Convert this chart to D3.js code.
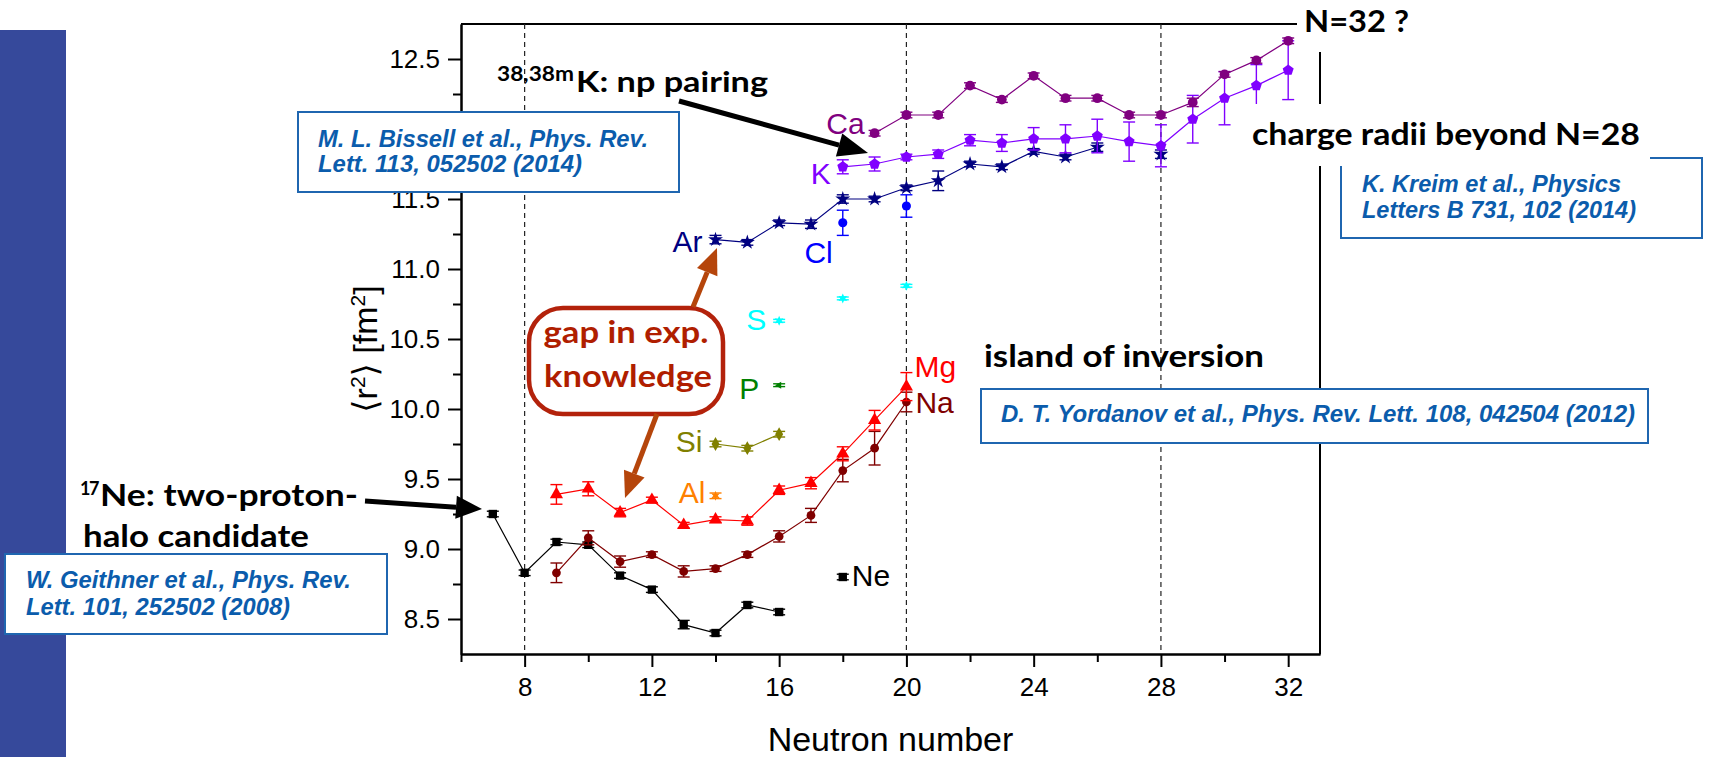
<!DOCTYPE html>
<html>
<head>
<meta charset="utf-8">
<script src="https://cdn.jsdelivr.net/npm/d3@7"></script>
<style>
  body { margin: 0; background: #fff; }
</style>
</head>
<body>
<script>
// [neutron number, <r^2> in fm^2, error]
const ne = [[7, 9.25, 0.02], [8, 8.83, 0.02], [9, 9.05, 0.02], [10, 9.03, 0.02], [11, 8.81, 0.02], [12, 8.71, 0.02], [13, 8.46, 0.03], [14, 8.40, 0.02], [15, 8.60, 0.02], [16, 8.55, 0.02], [18, 8.80, 0.02]]
const na = [[9, 8.83, 0.07], [10, 9.08, 0.05], [11, 8.91, 0.04], [12, 8.96, 0.02], [13, 8.84, 0.04], [14, 8.86, 0.02], [15, 8.96, 0.02], [16, 9.09, 0.04], [17, 9.24, 0.05], [18, 9.56, 0.08], [19, 9.72, 0.12], [20, 10.05, 0.07]]
const mg = [[9, 9.39, 0.07], [10, 9.43, 0.05], [11, 9.26, 0.03], [12, 9.35, 0.02], [13, 9.17, 0.02], [14, 9.21, 0.02], [15, 9.20, 0.03], [16, 9.42, 0.03], [17, 9.47, 0.04], [18, 9.68, 0.05], [19, 9.92, 0.07], [20, 10.16, 0.10]]
const al = [[14, 9.38, 0.02]]
const si = [[14, 9.75, 0.02], [15, 9.72, 0.02], [16, 9.82, 0.02]]
const p = [[16, 10.17, 0.01]]
const s = [[16, 10.63, 0.01], [18, 10.79, 0.01], [20, 10.88, 0.01]]
const cl = [[18, 11.33, 0.09], [20, 11.45, 0.08]]
const ar = [[14, 11.21, 0.03], [15, 11.19, 0.02], [16, 11.33, 0.02], [17, 11.32, 0.03], [18, 11.50, 0.03], [19, 11.50, 0.02], [20, 11.58, 0.02], [21, 11.63, 0.07], [22, 11.75, 0.02], [23, 11.73, 0.02], [24, 11.84, 0.02], [25, 11.80, 0.02], [26, 11.87, 0.03], [28, 11.82, 0.03]]
const k = [[18, 11.73, 0.05], [19, 11.75, 0.05], [20, 11.80, 0.02], [21, 11.82, 0.03], [22, 11.92, 0.04], [23, 11.90, 0.06], [24, 11.93, 0.08], [25, 11.93, 0.10], [26, 11.95, 0.12], [27, 11.91, 0.14], [28, 11.88, 0.15], [29, 12.07, 0.17], [30, 12.22, 0.19], [31, 12.31, 0.15], [32, 12.42, 0.21]]
const ca = [[19, 11.97, 0.02], [20, 12.10, 0.02], [21, 12.10, 0.02], [22, 12.31, 0.02], [23, 12.21, 0.02], [24, 12.38, 0.02], [25, 12.22, 0.02], [26, 12.22, 0.02], [27, 12.10, 0.02], [28, 12.10, 0.02], [29, 12.19, 0.03], [30, 12.39, 0.02], [31, 12.49, 0.02], [32, 12.63, 0.02]]

const xMajor = [8, 12, 16, 20, 24, 28, 32]
const xMinor = [6, 10, 14, 18, 22, 26, 30]
const yMajor = [8.5, 9.0, 9.5, 10.0, 10.5, 11.0, 11.5, 12.0, 12.5]
const yMinor = [8.75, 9.25, 9.75, 10.25, 10.75, 11.25, 11.75, 12.25]
const yHidden = [12.0]   // label sits under the Bissell box on the slide
const magicN = [8, 20, 28]

const W = 1709, H = 757
const sans = '"Liberation Sans", Arial, "DejaVu Sans", sans-serif'
const bold = 'Lato, "Open Sans", sans-serif'

// custom marker shapes
const poly = (n, rot, inner) => ({
    draw(ctx, size) {
        const r = Math.sqrt(size / 2.4)
        const pts = inner ? n * 2 : n
        for (let i = 0; i < pts; i++) {
            const a = rot + i * Math.PI * 2 / pts
            const rr = inner && i % 2 ? r * inner : r
            const px = rr * Math.sin(a), py = -rr * Math.cos(a)
            i ? ctx.lineTo(px, py) : ctx.moveTo(px, py)
        }
        ctx.closePath()
    }
})

const series = [
    { name: 'Ne', data: ne, color: '#000000', sym: d3.symbolSquare, size: 70, lab: { at: 'last', dx: 9, dy: 9, anchor: 'start' } },
    { name: 'Na', data: na, color: '#800000', sym: d3.symbolCircle, size: 60, lab: { at: 'last', dx: 9, dy: 11, anchor: 'start' } },
    { name: 'Mg', data: mg, color: '#ff0000', sym: d3.symbolTriangle, size: 75, lab: { at: 'last', dx: 8, dy: -10, anchor: 'start' } },
    { name: 'Al', data: al, color: '#ff8000', sym: poly(6, 0, 0.45), size: 60, lab: { at: 'first', dx: -10, dy: 7, anchor: 'end' } },
    { name: 'Si', data: si, color: '#808000', sym: d3.symbolDiamond, size: 55, lab: { at: 'first', dx: -13, dy: 8, anchor: 'end' } },
    { name: 'P', data: p, color: '#008000', sym: poly(3, -Math.PI / 2), size: 40, lab: { at: 'first', dx: -20, dy: 14, anchor: 'end' } },
    { name: 'S', data: s, color: '#00ffff', sym: poly(6, 0, 0.5), size: 60, lab: { at: 'first', dx: -13, dy: 9, anchor: 'end' } },
    { name: 'Cl', data: cl, color: '#0000ff', sym: d3.symbolCircle, size: 65, lab: { at: 'first', dx: -10, dy: 40, anchor: 'end' } },
    { name: 'Ar', data: ar, color: '#000080', sym: d3.symbolStar, size: 70, lab: { at: 'first', dx: -13, dy: 12, anchor: 'end' } },
    { name: 'K', data: k, color: '#8000ff', sym: poly(5, 0), size: 80, lab: { at: 'first', dx: -12, dy: 17, anchor: 'end' } },
    { name: 'Ca', data: ca, color: '#800080', sym: d3.symbolCircle, size: 75, lab: { at: 'first', dx: -10, dy: 1, anchor: 'end' } }
]

const svg = d3.select('body').append('svg').attr('width', W).attr('height', H)

const x = d3.scaleLinear().domain([6, 33]).range([461, 1320])
const y = d3.scaleLinear().domain([8.25, 12.75]).range([654, 24])
const [x0, x1] = x.range(), [y0, y1] = y.range()

// slide side bar
svg.append('rect').attr('x', 0).attr('y', 30).attr('width', 66).attr('height', H - 30).attr('fill', '#36499b')

// axes
const styleAxis = g => {
    g.attr('font-family', sans).attr('font-size', 26)
    g.selectAll('line').attr('stroke-width', 2)
    g.select('.domain').attr('stroke-width', 2)
    g.selectAll('text').attr('fill', '#000')
}
const yFmt = d => yHidden.includes(d) ? '' : d3.format('.1f')(d)
svg.append('g').attr('transform', `translate(0,${y0})`)
    .call(d3.axisBottom(x).tickValues(xMajor).tickSize(13).tickPadding(11).tickSizeOuter(0).tickFormat(d3.format('d')))
    .call(styleAxis)
svg.append('g').attr('transform', `translate(0,${y0})`)
    .call(d3.axisBottom(x).tickValues(xMinor).tickSize(8).tickSizeOuter(0).tickFormat(''))
    .call(styleAxis)
svg.append('g').attr('transform', `translate(${x0},0)`)
    .call(d3.axisLeft(y).tickValues(yMajor).tickSize(13).tickPadding(8).tickSizeOuter(0).tickFormat(yFmt))
    .call(styleAxis)
svg.append('g').attr('transform', `translate(${x0},0)`)
    .call(d3.axisLeft(y).tickValues(yMinor).tickSize(8).tickSizeOuter(0).tickFormat(''))
    .call(styleAxis)
svg.append('line').attr('x1', x0).attr('x2', x1).attr('y1', y1).attr('y2', y1).attr('stroke', '#000').attr('stroke-width', 2)
svg.append('line').attr('x1', x1).attr('x2', x1).attr('y1', y1).attr('y2', y0).attr('stroke', '#000').attr('stroke-width', 2)

svg.selectAll('.magic').data(magicN).join('line')
    .attr('x1', d => x(d)).attr('x2', d => x(d)).attr('y1', y1).attr('y2', y0)
    .attr('stroke', '#222').attr('stroke-width', 1.2).attr('stroke-dasharray', '5,4')

// axis titles
svg.append('text').attr('x', (x0 + x1) / 2).attr('y', 751).attr('text-anchor', 'middle')
    .attr('font-family', sans).attr('font-size', 34).text('Neutron number')
const yl = svg.append('text').attr('transform', 'translate(377,349) rotate(-90)').attr('text-anchor', 'middle')
    .attr('font-family', sans).attr('font-size', 34)
yl.append('tspan').text('\u27E8r')
yl.append('tspan').attr('dy', -12).attr('font-size', 21).text('2')
yl.append('tspan').attr('dy', 12).text('\u27E9 [fm')
yl.append('tspan').attr('dy', -12).attr('font-size', 21).text('2')
yl.append('tspan').attr('dy', 12).text(']')

// data
const line = d3.line().x(d => x(d[0])).y(d => y(d[1]))
series.forEach(sr => {
    const g = svg.append('g')
    const runs = []
    sr.data.forEach((d, i) => {
        if (i && d[0] - sr.data[i - 1][0] === 1) runs[runs.length - 1].push(d)
        else runs.push([d])
    })
    g.selectAll('.run').data(runs.filter(r => r.length > 1)).join('path')
        .attr('d', line).attr('fill', 'none').attr('stroke', sr.color).attr('stroke-width', 1.2)

    const eb = g.selectAll('.eb').data(sr.data).join('g').attr('stroke', sr.color).attr('stroke-width', 1.4)
    eb.append('line').attr('x1', d => x(d[0])).attr('x2', d => x(d[0])).attr('y1', d => y(d[1] - d[2])).attr('y2', d => y(d[1] + d[2]))
    eb.append('line').attr('x1', d => x(d[0]) - 6).attr('x2', d => x(d[0]) + 6).attr('y1', d => y(d[1] - d[2])).attr('y2', d => y(d[1] - d[2]))
    eb.append('line').attr('x1', d => x(d[0]) - 6).attr('x2', d => x(d[0]) + 6).attr('y1', d => y(d[1] + d[2])).attr('y2', d => y(d[1] + d[2]))

    g.selectAll('.mk').data(sr.data).join('path')
        .attr('transform', d => `translate(${x(d[0])},${y(d[1])})`)
        .attr('d', d3.symbol().type(sr.sym).size(sr.size))
        .attr('fill', sr.color)

    const ref = sr.lab.at === 'first' ? sr.data[0] : sr.data[sr.data.length - 1]
    g.append('text').attr('x', x(ref[0]) + sr.lab.dx).attr('y', y(ref[1]) + sr.lab.dy)
        .attr('text-anchor', sr.lab.anchor).attr('font-family', sans).attr('font-size', 30)
        .attr('fill', sr.color).text(sr.name)
})

// annotations
const citeBox = (bx, by, bw, bh, lines) => {
    svg.append('rect').attr('x', bx).attr('y', by).attr('width', bw).attr('height', bh)
        .attr('fill', '#fff').attr('stroke', '#1f66b0').attr('stroke-width', 2)
    lines.forEach(l => {
        svg.append('text').attr('x', bx + l[0]).attr('y', by + l[1]).attr('font-family', sans)
            .attr('font-size', 23).attr('font-weight', 'bold').attr('font-style', 'italic').attr('fill', '#0b5cac')
            .attr('textLength', l[3]).attr('lengthAdjust', 'spacingAndGlyphs').text(l[2])
    })
}
const label = (tx, ty, size, width, txt, color, anchor) => svg.append('text')
    .attr('x', tx).attr('y', ty).attr('font-family', bold).attr('font-weight', 'bold').attr('font-size', size)
    .attr('fill', color || '#000').attr('text-anchor', anchor || 'start')
    .attr('textLength', width).attr('lengthAdjust', 'spacingAndGlyphs').text(txt)

// bold text with a leading superscript, kept in one text element
const supLabel = (tx, ty, sup, supW, supSize, main, mainX, mainW, size) => {
    const t = svg.append('text').attr('y', ty).attr('font-family', bold).attr('font-weight', 'bold').attr('fill', '#000')
    const st = t.append('tspan').attr('x', tx).attr('dy', -11).attr('font-size', supSize).text(sup)
    if (supW) st.attr('textLength', supW).attr('lengthAdjust', 'spacingAndGlyphs')
    else st.attr('letter-spacing', -1.5)
    t.append('tspan').attr('x', mainX).attr('dy', 11).attr('font-size', size)
        .attr('textLength', mainW).attr('lengthAdjust', 'spacingAndGlyphs').text(main)
}

const arrow = (ax, ay, bx, by, color, w, hl, hw) => {
    const a = Math.atan2(by - ay, bx - ax)
    const cx = bx - hl * Math.cos(a), cy = by - hl * Math.sin(a)
    const px = -Math.sin(a) * hw / 2, py = Math.cos(a) * hw / 2
    svg.append('line').attr('x1', ax).attr('y1', ay).attr('x2', cx).attr('y2', cy).attr('stroke', color).attr('stroke-width', w)
    svg.append('path').attr('d', `M${bx},${by}L${cx + px},${cy + py}L${cx - px},${cy - py}Z`).attr('fill', color)
}

citeBox(298, 112, 381, 80, [[20, 35, 'M. L. Bissell et al., Phys. Rev.', 330], [20, 60, 'Lett. 113, 052502 (2014)', 264]])
citeBox(5, 554, 382, 80, [[21, 34, 'W. Geithner et al., Phys. Rev.', 325], [21, 61, 'Lett. 101, 252502 (2008)', 264]])
citeBox(1341, 158, 361, 80, [[21, 34, 'K. Kreim et al., Physics', 259], [21, 60, 'Letters B 731, 102 (2014)', 274]])
citeBox(981, 389, 667, 54, [[20, 33, 'D. T. Yordanov et al., Phys. Rev. Lett. 108, 042504 (2012)', 634]])

svg.append('rect').attr('x', 1297).attr('y', 0).attr('width', 125).attr('height', 52).attr('fill', '#fff')
svg.append('rect').attr('x', 1245).attr('y', 104).attr('width', 405).attr('height', 62).attr('fill', '#fff')
label(1304, 32, 31, 105, 'N=32 ?')
label(1252, 145, 31, 388, 'charge radii beyond N=28')
label(984, 367, 31, 280, 'island of inversion')
supLabel(497, 92, '38,38m', 77, 20, 'K: np pairing', 576, 192, 29)
supLabel(80, 506, '17', null, 18, 'Ne: two-proton-', 100, 258, 31)
label(83, 547, 31, 226, 'halo candidate')

svg.append('rect').attr('x', 529).attr('y', 308).attr('width', 194).attr('height', 106).attr('rx', 34)
    .attr('fill', '#fff').attr('stroke', '#b3220b').attr('stroke-width', 4.5)
label(626, 343, 30, 165, 'gap in exp.', '#b01e00', 'middle')
label(628, 387, 30, 168, 'knowledge', '#b01e00', 'middle')

arrow(679, 101, 868, 153, '#000', 5, 30, 24)
arrow(365, 501, 482, 509, '#000', 5, 26, 23)
arrow(693, 307, 717, 248, '#b5450b', 5, 26, 22)
arrow(657, 414, 625, 498, '#b5450b', 5, 26, 22)
</script>
</body>
</html>
